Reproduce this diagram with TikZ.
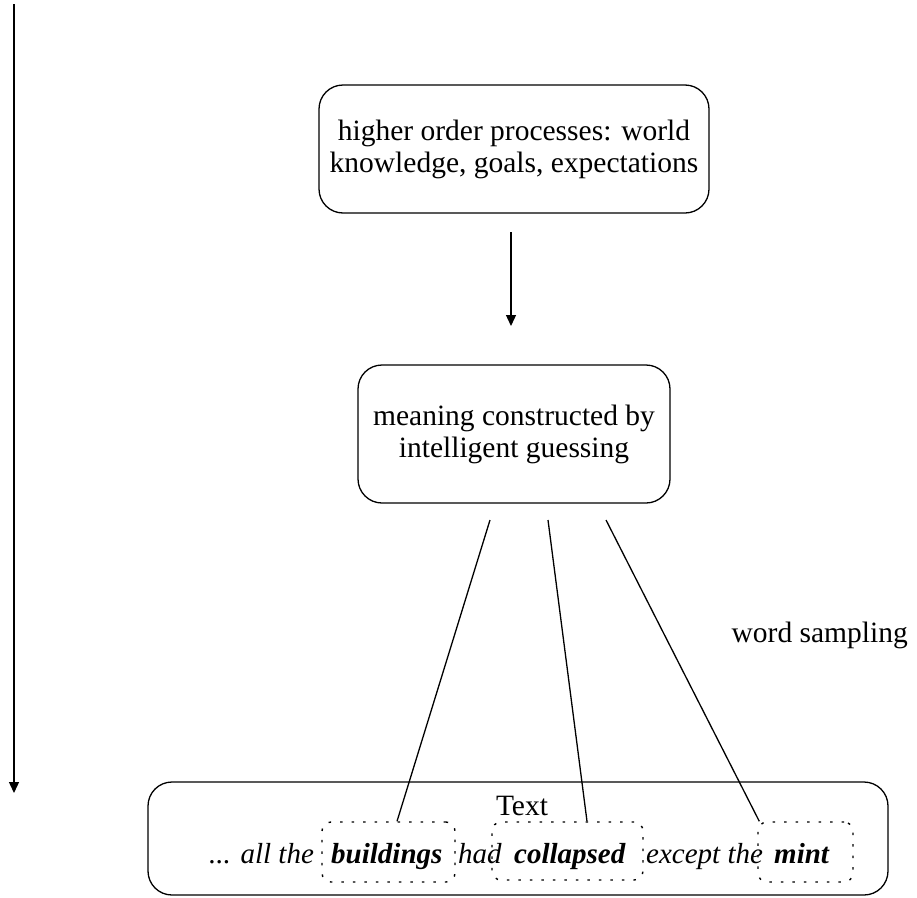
\documentclass[tikz,border=0pt]{standalone}
\usepackage{fontspec}
\setmainfont{Liberation Serif}
\usetikzlibrary{arrows.meta}
\begin{document}
\begin{tikzpicture}[x=1pt,y=-1pt,
  font=\fontsize{29.5}{32}\selectfont,
  bigbox/.style={draw, line width=1.3pt, rounded corners=24pt, align=center, inner sep=0pt},
  wordbox/.style={draw, line width=1.4pt, dash pattern=on 2.5pt off 9pt, rounded corners=9pt, inner sep=0pt},
  sent/.style={inner sep=0pt, anchor=base west, font=\fontsize{29}{32}\selectfont\itshape},
  bsent/.style={sent, font=\fontsize{29}{32}\selectfont\bfseries\itshape},
  conn/.style={line width=1.3pt},
  arr/.style={line width=1.3pt, -{Triangle[length=11pt,width=10pt]}}
]
\useasboundingbox (0,0) rectangle (917,897);
% left arrow
\coordinate (la) at (14,4);
\coordinate (lb) at (14,793);
\draw[arr] (la) -- (lb);
% top box
\node[bigbox, minimum width=390pt, minimum height=128pt] (top) at (514,149)
  {higher order processes: world\\knowledge, goals, expectations};
% middle box
\node[bigbox, minimum width=312pt, minimum height=138pt] (mid) at (514,434)
  {meaning constructed by\\intelligent guessing};
\coordinate (a1) at (511,232);
\coordinate (a2) at (511,326);
\draw[arr] (a1) -- (a2);
% bottom box
\node[draw, line width=1.3pt, rounded corners=24pt, minimum width=740pt, minimum height=113pt] (bot) at (518,838.5) {};
\node[inner sep=0pt, anchor=base] (txt) at (522,815) {Text};
% dotted word boxes
\node[wordbox, minimum width=133pt, minimum height=60pt] (b) at (388.5,852) {};
\node[wordbox, minimum width=151pt, minimum height=58pt] (c) at (567.5,851) {};
\node[wordbox, minimum width=95pt, minimum height=60pt] (m) at (805.5,852) {};
% sentence
\node[sent] (w1) at (209,863) {... all the};
\node[bsent] (t1) at (331,863) {buildings};
\node[sent] (w2) at (458,863) {had};
\node[bsent] (t2) at (514,863) {collapsed};
\node[sent] (w3) at (646,863) {except the};
\node[bsent] (t3) at (774,863) {mint};
% sampling lines
\coordinate (s1) at (490,520);
\coordinate (s2) at (548,520);
\coordinate (s3) at (606,520);
\coordinate (e1) at ([xshift=8.5pt]b.north);
\coordinate (e2) at ([xshift=19.5pt]c.north);
\coordinate (e3) at ([xshift=2pt]m.north west);
\draw[conn] (s1) -- (e1);
\draw[conn] (s2) -- (e2);
\draw[conn] (s3) -- (e3);
\node[inner sep=0pt, anchor=east] (ws) at (908,635) {word sampling};
\end{tikzpicture}
\end{document}
